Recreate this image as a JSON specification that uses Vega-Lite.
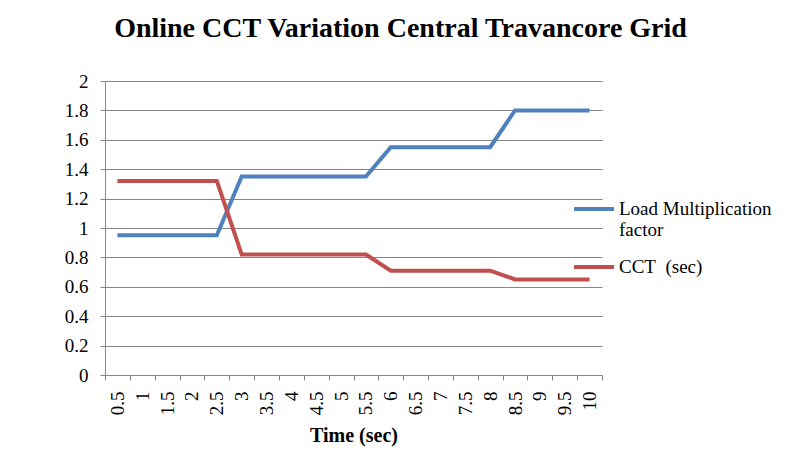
{
  "$schema": "https://vega.github.io/schema/vega-lite/v6.json",
  "width": 497,
  "height": 294,
  "autosize": {"type": "none"},
  "padding": {"left": 105, "top": 81, "right": 197, "bottom": 75},
  "background": "white",
  "title": {
    "text": "Online CCT Variation Central Travancore Grid",
    "font": "Liberation Serif",
    "fontSize": 28,
    "fontWeight": "bold",
    "color": "black",
    "anchor": "middle",
    "frame": "group",
    "dx": 47,
    "offset": 29
  },
  "config": {
    "view": {"stroke": null},
    "font": "Liberation Serif"
  },
  "data": {
    "values": [
      {"time": 0.5, "series": "Load Multiplication factor", "value": 0.95},
      {"time": 1, "series": "Load Multiplication factor", "value": 0.95},
      {"time": 1.5, "series": "Load Multiplication factor", "value": 0.95},
      {"time": 2, "series": "Load Multiplication factor", "value": 0.95},
      {"time": 2.5, "series": "Load Multiplication factor", "value": 0.95},
      {"time": 3, "series": "Load Multiplication factor", "value": 1.35},
      {"time": 3.5, "series": "Load Multiplication factor", "value": 1.35},
      {"time": 4, "series": "Load Multiplication factor", "value": 1.35},
      {"time": 4.5, "series": "Load Multiplication factor", "value": 1.35},
      {"time": 5, "series": "Load Multiplication factor", "value": 1.35},
      {"time": 5.5, "series": "Load Multiplication factor", "value": 1.35},
      {"time": 6, "series": "Load Multiplication factor", "value": 1.55},
      {"time": 6.5, "series": "Load Multiplication factor", "value": 1.55},
      {"time": 7, "series": "Load Multiplication factor", "value": 1.55},
      {"time": 7.5, "series": "Load Multiplication factor", "value": 1.55},
      {"time": 8, "series": "Load Multiplication factor", "value": 1.55},
      {"time": 8.5, "series": "Load Multiplication factor", "value": 1.8},
      {"time": 9, "series": "Load Multiplication factor", "value": 1.8},
      {"time": 9.5, "series": "Load Multiplication factor", "value": 1.8},
      {"time": 10, "series": "Load Multiplication factor", "value": 1.8},
      {"time": 0.5, "series": "CCT\u00a0 (sec)", "value": 1.32},
      {"time": 1, "series": "CCT\u00a0 (sec)", "value": 1.32},
      {"time": 1.5, "series": "CCT\u00a0 (sec)", "value": 1.32},
      {"time": 2, "series": "CCT\u00a0 (sec)", "value": 1.32},
      {"time": 2.5, "series": "CCT\u00a0 (sec)", "value": 1.32},
      {"time": 3, "series": "CCT\u00a0 (sec)", "value": 0.82},
      {"time": 3.5, "series": "CCT\u00a0 (sec)", "value": 0.82},
      {"time": 4, "series": "CCT\u00a0 (sec)", "value": 0.82},
      {"time": 4.5, "series": "CCT\u00a0 (sec)", "value": 0.82},
      {"time": 5, "series": "CCT\u00a0 (sec)", "value": 0.82},
      {"time": 5.5, "series": "CCT\u00a0 (sec)", "value": 0.82},
      {"time": 6, "series": "CCT\u00a0 (sec)", "value": 0.71},
      {"time": 6.5, "series": "CCT\u00a0 (sec)", "value": 0.71},
      {"time": 7, "series": "CCT\u00a0 (sec)", "value": 0.71},
      {"time": 7.5, "series": "CCT\u00a0 (sec)", "value": 0.71},
      {"time": 8, "series": "CCT\u00a0 (sec)", "value": 0.71},
      {"time": 8.5, "series": "CCT\u00a0 (sec)", "value": 0.65},
      {"time": 9, "series": "CCT\u00a0 (sec)", "value": 0.65},
      {"time": 9.5, "series": "CCT\u00a0 (sec)", "value": 0.65},
      {"time": 10, "series": "CCT\u00a0 (sec)", "value": 0.65}
    ]
  },
  "mark": {"type": "line", "strokeWidth": 4},
  "encoding": {
    "x": {
      "field": "time",
      "type": "ordinal",
      "bandPosition": 0.5,
      "scale": {"type": "band", "paddingInner": 0, "paddingOuter": 0},
      "axis": {
        "title": "Time (sec)",
        "titleFont": "Liberation Serif",
        "titleFontSize": 20,
        "titleFontWeight": "bold",
        "titleColor": "black",
        "titlePadding": 11,
        "labelAngle": -90,
        "labelAlign": "right",
        "labelBaseline": "middle",
        "labelFont": "Liberation Serif",
        "labelFontSize": 19,
        "labelColor": "black",
        "labelPadding": 11,
        "tickBand": "extent",
        "tickSize": 5,
        "tickColor": "#868686",
        "domainColor": "#868686",
        "grid": false
      }
    },
    "y": {
      "field": "value",
      "type": "quantitative",
      "scale": {"domain": [0, 2], "nice": false},
      "axis": {
        "title": null,
        "values": [0, 0.2, 0.4, 0.6, 0.8, 1, 1.2, 1.4, 1.6, 1.8, 2],
        "format": ".1~f",
        "labelFont": "Liberation Serif",
        "labelFontSize": 19,
        "labelColor": "black",
        "labelPadding": 12,
        "tickSize": 5,
        "tickColor": "#868686",
        "domainColor": "#868686",
        "grid": true,
        "gridColor": "#868686",
        "gridWidth": 1
      }
    },
    "color": {
      "field": "series",
      "type": "nominal",
      "sort": ["Load Multiplication factor", "CCT\u00a0 (sec)"],
      "scale": {"domain": ["Load Multiplication factor", "CCT\u00a0 (sec)"], "range": ["#4F81BD", "#C0504D"]},
      "legend": {
        "title": null,
        "orient": "none",
        "legendX": 467,
        "legendY": 106,
        "symbolType": "stroke",
        "symbolSize": 1600,
        "symbolStrokeWidth": 4,
        "labelFont": "Liberation Serif",
        "labelFontSize": 19,
        "labelColor": "black",
        "labelLimit": 300,
        "labelOffset": 3,
        "rowPadding": 5,
        "labelExpr": "datum.label == 'Load Multiplication factor' ? ['Load Multiplication', ' factor'] : datum.label"
      }
    }
  }
}
